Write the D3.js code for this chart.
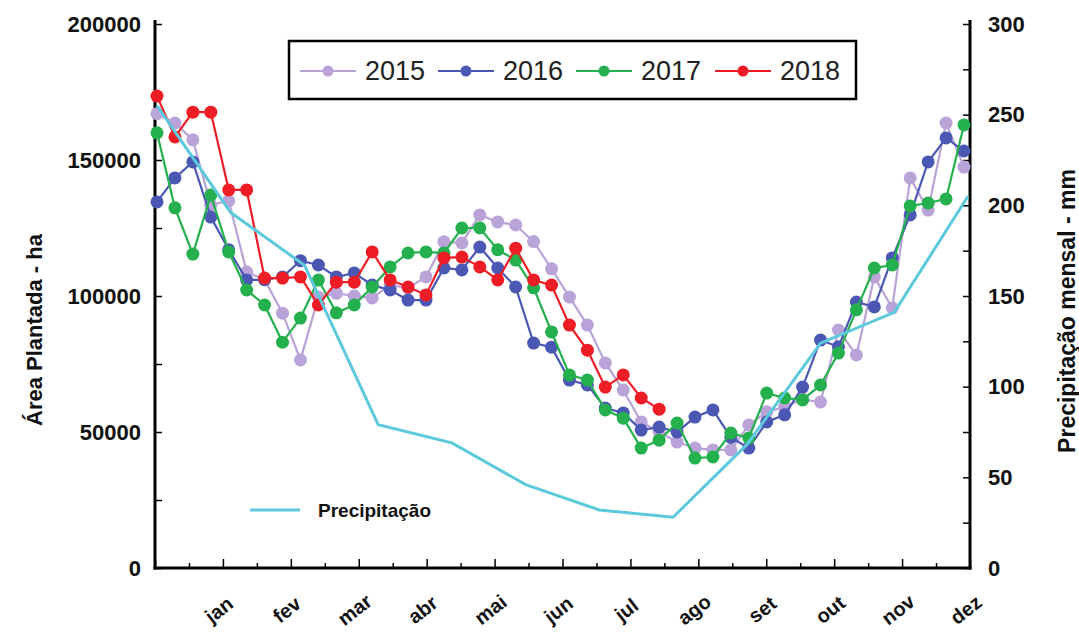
<!DOCTYPE html>
<html><head><meta charset="utf-8">
<script src="https://cdn.jsdelivr.net/npm/d3@7/dist/d3.min.js"></script>
<style>body{margin:0;background:#fff}svg{display:block}text{font-family:"Liberation Sans",Arial,sans-serif}</style>
</head><body><svg id="c" width="1079" height="636"></svg>
<script>
const months=["jan","fev","mar","abr","mai","jun","jul","ago","set","out","nov","dez"];
const years=["2015","2016","2017","2018"];
const area2015=[167000,163600,157400,133500,135000,108800,106000,93700,76500,99600,101000,100000,99300,104000,103000,107000,119900,119500,129800,127200,126100,120000,110000,99600,89300,75400,65400,53700,50000,46300,44100,43400,43400,52600,57400,59200,62000,61000,87500,78300,107000,95600,143400,131600,163600,147400];
const area2016=[134600,143400,149300,129000,117000,105900,106000,107000,113000,111400,107000,108500,104000,102200,98500,98500,110300,109600,118000,110300,103300,82700,81200,69100,67300,58800,57000,50700,51800,50000,55500,58100,48000,44100,53700,56300,66500,83800,81300,97800,96000,114000,129800,149300,158100,153300];
const area2017=[160000,132400,115400,137100,116200,102200,96700,83000,91900,105900,93800,96700,103300,110700,115800,116200,115800,125000,125000,117000,113200,103000,86800,71000,69100,58100,55100,44100,47000,53300,40400,40800,49600,47800,64300,62500,61800,67300,79000,94900,110300,111400,133100,134200,135700,162900];
const area2018=[173500,158500,167600,167600,139000,139000,106600,106600,107000,96700,105100,105100,116200,105900,103300,100400,114000,114300,110700,105900,117600,105900,104000,89300,80100,66500,71000,62500,58400];
const precip=[255,196,167,79,69,46,32,28,68,124,141,205];
const areaTicks=[0,50000,100000,150000,200000];
const precipTicks=[0,50,100,150,200,250,300];
const colors=["#b9a3d8","#4a58b3","#24b04c","#ee1d25"];
const precipColor="#5cc9dd";

const L=155,R=970,T=24,B=568;
const svg=d3.select("#c");
const xMonth=d3.scaleLinear().domain([0,12]).range([L,R]);
const xWeek=d3.scaleLinear().domain([0,45]).range([L+2,R-6]);
const xPrec=d3.scaleLinear().domain([0,11]).range([L+2,R-2]);
const yArea=d3.scaleLinear().domain([0,200000]).range([B,T]);
const yPrec=d3.scaleLinear().domain([0,300]).range([B,T]);

// axes
const gL=svg.append("g").attr("transform",`translate(${L},0)`)
  .call(d3.axisLeft(yArea).tickValues(d3.range(0,200001,25000)).tickSize(-7).tickSizeOuter(0).tickPadding(14)
  .tickFormat(d=>areaTicks.includes(d)?String(d):""));
const gR=svg.append("g").attr("transform",`translate(${R},0)`)
  .call(d3.axisRight(yPrec).tickValues(d3.range(0,301,25)).tickSize(-7).tickSizeOuter(0).tickPadding(18)
  .tickFormat(d=>precipTicks.includes(d)?String(d):""));
const gB=svg.append("g").attr("transform",`translate(0,${B})`)
  .call(d3.axisBottom(xMonth).tickValues(d3.range(0,12.01,0.5)).tickSize(-6).tickSizeOuter(0).tickFormat(""));
gB.selectAll(".tick line").attr("y2",d=>Number.isInteger(d)?-9:-5);
[gL,gR,gB].forEach(g=>{
  g.select(".domain").attr("stroke","#000").attr("stroke-width",3);
  g.selectAll(".tick line").attr("stroke","#000").attr("stroke-width",1.5);
  g.selectAll("text").attr("font-size",22).attr("font-weight","bold").attr("fill","#111");
});
gL.select(".domain").attr("d",`M0,${T-4}V${B+1.5}`);
gR.select(".domain").attr("d",`M0,${T-4}V${B+1.5}`);
gB.select(".domain").attr("d",`M${L-1.5},0H${R+1.5}`);

// month labels
svg.append("g").selectAll("text").data(months).join("text")
  .attr("transform",(d,i)=>`translate(${xMonth(i+1)-3},${611}) rotate(-38)`)
  .attr("text-anchor","middle").attr("dominant-baseline","middle")
  .attr("font-size",20).attr("font-weight","bold").attr("fill","#111").text(d=>d);

// axis titles
svg.append("text").attr("transform","translate(42,330) rotate(-90)").attr("text-anchor","middle")
  .attr("font-size",22).attr("font-weight","bold").attr("fill","#111").text("Área Plantada - ha");
svg.append("text").attr("transform","translate(1075,311) rotate(-90)").attr("text-anchor","middle")
  .attr("font-size",23).attr("font-weight","bold").attr("fill","#111").text("Precipitação mensal - mm");

// series
const series=[area2015,area2016,area2017,area2018];
const line=d3.line().x((d,i)=>xWeek(i)).y(d=>yArea(d));
series.forEach((s,k)=>{
  const g=svg.append("g");
  g.append("path").attr("d",line(s)).attr("fill","none").attr("stroke",colors[k]).attr("stroke-width",2.2);
  g.selectAll("circle").data(s).join("circle").attr("cx",(d,i)=>xWeek(i)).attr("cy",d=>yArea(d))
    .attr("r",6.5).attr("fill",colors[k]);
});
// precipitation
const pline=d3.line().x((d,i)=>xPrec(i)).y(d=>yPrec(d));
svg.append("path").attr("d",pline(precip)).attr("fill","none").attr("stroke",precipColor).attr("stroke-width",3);

// legend
const lg=svg.append("g");
lg.append("rect").attr("x",289).attr("y",41).attr("width",567).attr("height",58)
  .attr("fill","#fff").attr("stroke","#000").attr("stroke-width",2.5);
const lx=[300,438,576,715];
years.forEach((y,k)=>{
  lg.append("line").attr("x1",lx[k]).attr("x2",lx[k]+56).attr("y1",71).attr("y2",71).attr("stroke",colors[k]).attr("stroke-width",2.2);
  lg.append("circle").attr("cx",lx[k]+28).attr("cy",71).attr("r",5.5).attr("fill",colors[k]);
  lg.append("text").attr("x",lx[k]+65).attr("y",71).attr("dominant-baseline","central")
    .attr("font-size",27).attr("fill","#222").text(y);
});
svg.append("line").attr("x1",250).attr("x2",300).attr("y1",510).attr("y2",510).attr("stroke",precipColor).attr("stroke-width",3);
svg.append("text").attr("x",318).attr("y",510).attr("dominant-baseline","central")
  .attr("font-size",19).attr("font-weight","bold").attr("fill","#111").text("Precipitação");
</script></body></html>
